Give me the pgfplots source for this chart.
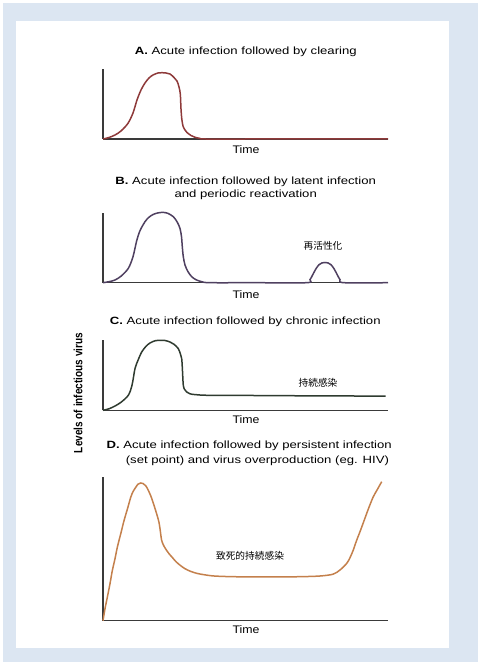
\documentclass[border=0pt]{standalone}
\usepackage{pgfplots}
\pgfplotsset{compat=1.18}
\usepackage{graphicx}
\usepackage{fontspec}
\setmainfont{Liberation Sans}
\newfontfamily\jp{Noto Sans CJK JP}

\definecolor{framebg}{HTML}{DCE6F2}
\definecolor{axisgray}{HTML}{3A3A3A}
\definecolor{curveA}{HTML}{8E3A3A}
\definecolor{curveB}{HTML}{4F4060}
\definecolor{curveC}{HTML}{2F3B30}
\definecolor{curveD}{HTML}{C4804C}

% wide sans captions and axis words
\newcommand{\ttl}[1]{\scalebox{1.25}[1]{\fontsize{10.5}{12}\selectfont #1}}
\newcommand{\timelbl}{\scalebox{1.12}[1]{\fontsize{11}{13}\selectfont Time}}
\newcommand{\jplbl}{\jp\fontsize{9.7}{11}\selectfont}

\pgfplotsset{
  panel/.style={scale only axis, width=285pt, anchor=south west,
    xmin=0, xmax=285, ymin=0,
    axis x line=bottom, axis y line=left,
    axis line style={-, line width=1.5pt, draw=axisgray},
    xtick=\empty, ytick=\empty, clip=false, enlargelimits=false},
  curve/.style={smooth, tension=0.5, line width=1.5pt, no marks},
}

\begin{document}
\begin{tikzpicture}[x=1pt,y=1pt]
% page, frame and white sheet
\fill[white] (0,0) rectangle (480,664);
\fill[framebg] (2.5,2.3) rectangle (477.7,661.3);
\fill[white] (16,16) rectangle (449,643);

% ---- A: acute infection followed by clearing
\node at (245.8,612) {\ttl{\textbf{A.} Acute infection followed by clearing}};
\begin{axis}[panel, at={(103pt,525pt)}, height=70pt, ymax=70]
\addplot[curve, curveA] coordinates {
(0,0) (6,1.5) (12,4) (18,8) (25,15.7) (30,26) (34,39) (38,49) (42,56) (46,61)
(50,64) (55,66) (59,66.3) (63,66) (67,65) (71,61.5) (74,58) (76,52) (77.3,45)
(78,30) (78.8,20) (80,13) (82,9) (84,6.5) (88,3.5) (92,1.7) (97,0.6) (102,0)
(150,0) (200,0) (285,0)};
\end{axis}
\node at (246,514) {\timelbl};

% ---- B: latent infection with periodic reactivation
\node at (245.7,482.3) {\ttl{\textbf{B.} Acute infection followed by latent infection}};
\node at (245.7,469) {\ttl{and periodic reactivation}};
\begin{axis}[panel, at={(103pt,381.3pt)}, height=70pt, ymax=70]
\addplot[curve, curveB] coordinates {
(0,0) (6,1) (12,2.7) (18,6.5) (25.3,14.3) (30,26) (33.7,42) (37,52) (42,61)
(46,65.5) (50.3,68.3) (55,69.8) (60.3,70.3) (65,69.3) (70.3,66) (74,61)
(77,54.3) (78.5,46) (79.3,36) (80.3,26) (82,17.7) (85,11) (88.7,6) (93,3)
(98.7,1) (107,0) (150,0) (203.5,0) (207,3) (210,8.5) (213,14) (216,18)
(219,19.8) (222,20.2) (225,19.8) (228,18) (231,14) (234,8.5) (237,3) (241,0)
(285,0)};
\node[font=\jplbl] at (axis cs:220,36.7) {再活性化};
\end{axis}
\node at (246,369.7) {\timelbl};

% ---- C: chronic infection
\node at (245.3,342) {\ttl{\textbf{C.} Acute infection followed by chronic infection}};
\begin{axis}[panel, at={(103pt,253.7pt)}, height=70pt, ymax=70]
\addplot[curve, curveC] coordinates {
(0,0) (6,1.5) (12,4.3) (18,8) (25.3,15) (29,25) (32,41.7) (35,50) (38.7,58.3)
(43,64) (47,67.3) (52,69.5) (57,70) (62,69.8) (67,68.3) (71,66) (75.3,61.7)
(77.5,56) (78.7,51.7) (79.3,43) (79.7,35) (80.3,25) (81.5,21) (83.7,18.3)
(87,16.5) (92,15.7) (105,15) (150,14.8) (200,14.5) (250,14.3) (282.7,14.2)};
\node[font=\jplbl] at (axis cs:215,28) {持続感染};
\end{axis}
\node at (246,244) {\timelbl};

% ---- D: persistent infection and overproduction
\node[anchor=west] at (103,218) {\ttl{\textbf{D.} Acute infection followed by persistent infection}};
\node[anchor=west] at (122.3,203) {\ttl{(set point) and virus overproduction (eg. HIV)}};
\begin{axis}[panel, at={(103pt,43.3pt)}, height=144pt, ymax=144]
\addplot[curve, curveD] coordinates {
(0,0) (2,12) (4.3,23.3) (7,37) (9.3,50) (12,62) (14.3,73.3) (18,88) (21,100)
(24.5,112) (27.7,123.3) (30,129) (32.7,133.3) (35,136.5) (37.7,137.7)
(40,137.2) (42.7,135) (45,131) (47.7,125) (50,118.5) (52.7,110) (54.5,104)
(56,98.3) (57,92) (57.7,86.7) (58.5,81) (59.3,78.3) (61,74.5) (62.7,71.7)
(66,67) (69.3,63.3) (73,59) (77.7,55) (82,52) (87.7,49.3) (94,47.3) (101,46)
(111,44.7) (130,44) (163,43.7) (197,44) (217,44.7) (230,46.5) (237,50.7)
(243.7,57.3) (247,63) (250.3,70.7) (253.5,80) (257,89) (260.5,98.5)
(263.7,107.3) (267,116) (270.3,124) (274.5,131.5) (278.7,139)};
\node[font=\jplbl] at (axis cs:147,64.7) {致死的持続感染};
\end{axis}
\node at (246,34) {\timelbl};

% shared vertical label
\node[rotate=90] at (78,271) {\scalebox{1}[1.2]{\fontsize{10}{12}\selectfont\bfseries Levels of infectious virus}};
\end{tikzpicture}
\end{document}
